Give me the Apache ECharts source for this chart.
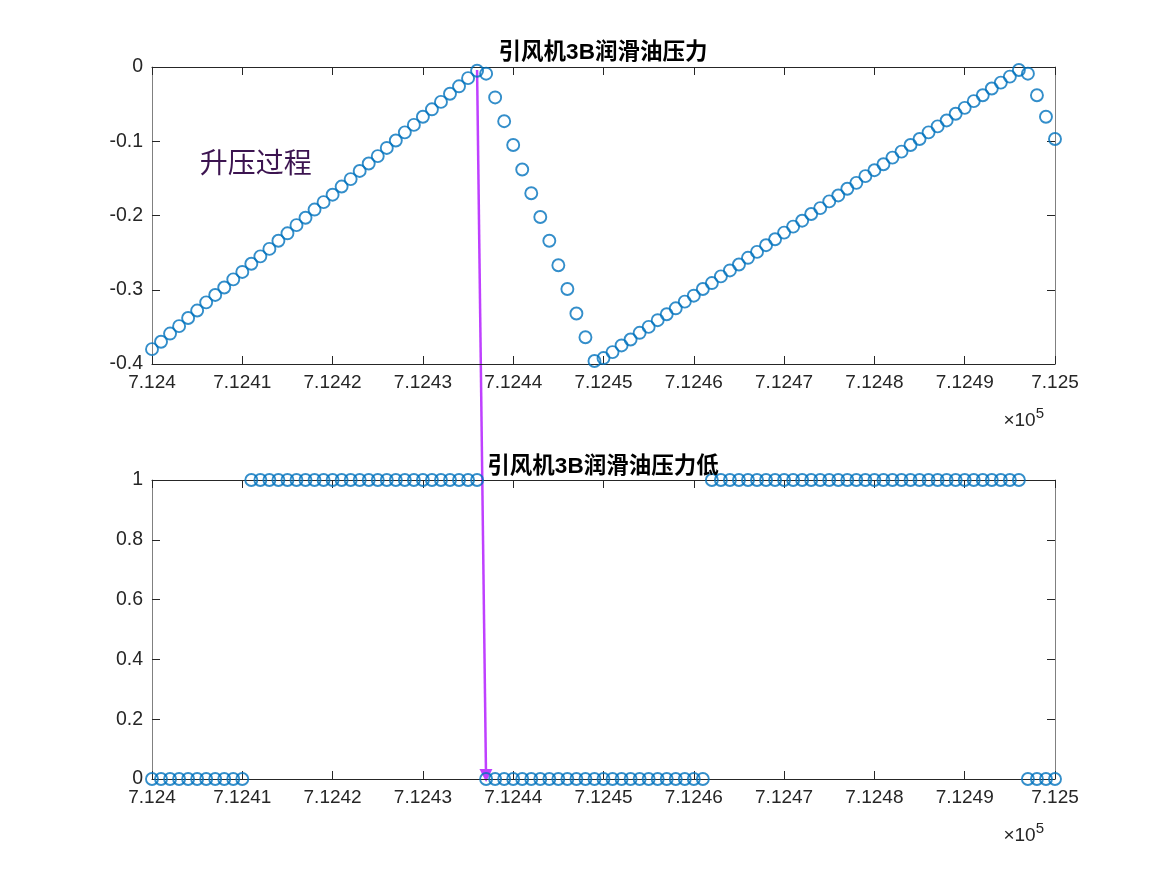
<!DOCTYPE html>
<html><head><meta charset="utf-8">
<script src="https://cdn.jsdelivr.net/npm/echarts@6/dist/echarts.min.js"></script>
<style>html,body{margin:0;padding:0;background:#fff}#c{width:1167px;height:875px}</style>
</head><body><div id="c"></div>
<script>
const xValues = [712400,712401,712402,712403,712404,712405,712406,712407,712408,712409,
712410,712411,712412,712413,712414,712415,712416,712417,712418,712419,
712420,712421,712422,712423,712424,712425,712426,712427,712428,712429,
712430,712431,712432,712433,712434,712435,712436,712437,712438,712439,
712440,712441,712442,712443,712444,712445,712446,712447,712448,712449,
712450,712451,712452,712453,712454,712455,712456,712457,712458,712459,
712460,712461,712462,712463,712464,712465,712466,712467,712468,712469,
712470,712471,712472,712473,712474,712475,712476,712477,712478,712479,
712480,712481,712482,712483,712484,712485,712486,712487,712488,712489,
712490,712491,712492,712493,712494,712495,712496,712497,712498,712499,712500];
const pressure = [-0.380,-0.370,-0.359,-0.349,-0.338,-0.328,-0.317,-0.307,-0.297,-0.286,
-0.276,-0.265,-0.255,-0.245,-0.234,-0.224,-0.213,-0.203,-0.192,-0.182,
-0.172,-0.161,-0.151,-0.140,-0.130,-0.120,-0.109,-0.099,-0.088,-0.078,
-0.067,-0.057,-0.047,-0.036,-0.026,-0.015,-0.005,-0.009,-0.041,-0.073,
-0.105,-0.138,-0.170,-0.202,-0.234,-0.267,-0.299,-0.332,-0.364,-0.396,
-0.392,-0.384,-0.375,-0.367,-0.358,-0.350,-0.341,-0.333,-0.325,-0.316,
-0.308,-0.299,-0.291,-0.282,-0.274,-0.266,-0.257,-0.249,-0.240,-0.232,
-0.223,-0.215,-0.207,-0.198,-0.190,-0.181,-0.173,-0.164,-0.156,-0.147,
-0.139,-0.131,-0.122,-0.114,-0.105,-0.097,-0.088,-0.080,-0.072,-0.063,
-0.055,-0.046,-0.038,-0.029,-0.021,-0.013,-0.004,-0.009,-0.038,-0.067,-0.097];
const lowFlag = [0,0,0,0,0,0,0,0,0,0,
0,1,1,1,1,1,1,1,1,1,
1,1,1,1,1,1,1,1,1,1,
1,1,1,1,1,1,1,0,0,0,
0,0,0,0,0,0,0,0,0,0,
0,0,0,0,0,0,0,0,0,0,
0,0,1,1,1,1,1,1,1,1,
1,1,1,1,1,1,1,1,1,1,
1,1,1,1,1,1,1,1,1,1,
1,1,1,1,1,1,1,0,0,0,0];
const titles = ['引风机3B润滑油压力', '引风机3B润滑油压力低'];
const annotationText = '升压过程';

const chart = echarts.init(document.getElementById('c'));
const fontLat = 'Liberation Sans, Helvetica, Arial, sans-serif';
const fontTitle = 'Liberation Sans, Noto Sans CJK SC, sans-serif';
const axisDark = '#262626';
const axisGray = '#808080';
const xFmt = v => String(parseFloat((v / 1e5).toFixed(5)));
const yFmt = v => String(parseFloat(v.toFixed(2)));

function xAx(gi, pos) {
  return {
    type: 'value', gridIndex: gi, position: pos, min: 712400, max: 712500, interval: 10,
    axisLine: {show: true, onZero: false, lineStyle: {color: axisDark, width: 1}},
    axisTick: {show: true, inside: true, length: 8, lineStyle: {color: axisDark}},
    axisLabel: {show: pos === 'bottom', formatter: xFmt, color: axisDark, fontSize: 19, fontFamily: fontLat, margin: 9},
    splitLine: {show: false}
  };
}
function yAx(gi, pos, min, max, interval) {
  return {
    type: 'value', gridIndex: gi, position: pos, min: min, max: max, interval: interval,
    axisLine: {show: true, onZero: false, lineStyle: {color: axisGray, width: 1}},
    axisTick: {show: true, inside: true, length: 8, lineStyle: {color: axisDark}},
    axisLabel: {show: pos === 'left', formatter: yFmt, color: axisDark, fontSize: 19.5, fontFamily: fontLat, margin: 9},
    splitLine: {show: false}
  };
}
const marker = {
  symbol: 'circle', symbolSize: 12, clip: false,
  itemStyle: {color: 'rgba(0,0,0,0)', borderColor: '#0072BD', borderWidth: 1.9},
  emphasis: {disabled: true}, silent: true
};

chart.setOption({
  animation: false,
  backgroundColor: '#fff',
  title: [
    {text: titles[0], left: 598, top: 37, textAlign: 'center', textStyle: {fontSize: 22.5, fontWeight: 'bold', color: '#000', fontFamily: fontTitle}},
    {text: titles[1], left: 598, top: 451, textAlign: 'center', textStyle: {fontSize: 22.5, fontWeight: 'bold', color: '#000', fontFamily: fontTitle}}
  ],
  grid: [
    {left: 152, top: 67, width: 903, height: 297},
    {left: 152, top: 480, width: 903, height: 299}
  ],
  xAxis: [xAx(0, 'bottom'), xAx(0, 'top'), xAx(1, 'bottom'), xAx(1, 'top')],
  yAxis: [yAx(0, 'left', -0.4, 0, 0.1), yAx(0, 'right', -0.4, 0, 0.1), yAx(1, 'left', 0, 1, 0.2), yAx(1, 'right', 0, 1, 0.2)],
  series: [
    Object.assign({type: 'scatter', xAxisIndex: 0, yAxisIndex: 0, data: xValues.map((x, i) => [x, pressure[i]])}, marker),
    Object.assign({type: 'scatter', xAxisIndex: 2, yAxisIndex: 2, data: xValues.map((x, i) => [x, lowFlag[i]])}, marker)
  ]
});

// annotations positioned from data coordinates
const p0 = chart.convertToPixel({gridIndex: 0}, [712436, -0.004]);
const p1 = chart.convertToPixel({gridIndex: 1}, [712437, -0.01]);
const dx = p1[0] - p0[0], dy = p1[1] - p0[1];
const L = Math.sqrt(dx * dx + dy * dy);
const ux = dx / L, uy = dy / L;
const headLen = 13, headW = 6.5;
const bx = p1[0] - ux * headLen, by = p1[1] - uy * headLen;
const arrowColor = '#BF40FF';
const tPos = chart.convertToPixel({gridIndex: 0}, [712405.3, -0.129]);
const g0 = chart.convertToPixel({gridIndex: 0}, [712500, -0.4]);
const g1 = chart.convertToPixel({gridIndex: 1}, [712500, 0]);
function sciText(p) {
  return {
    type: 'text', x: p[0] - 11, y: p[1] + 57, silent: true,
    style: {
      text: '×10{s|5}', align: 'right', verticalAlign: 'middle', fill: axisDark,
      fontSize: 19, fontFamily: fontLat,
      rich: {s: {fontSize: 15, fontFamily: fontLat, fill: axisDark, verticalAlign: 'top', padding: [0, 0, 14, 0]}}
    }
  };
}
chart.setOption({
  graphic: [
    {type: 'line', silent: true, shape: {x1: p0[0], y1: p0[1], x2: bx, y2: by}, style: {stroke: arrowColor, lineWidth: 2.5}},
    {type: 'polygon', silent: true, shape: {points: [[p1[0], p1[1]], [bx - uy * headW, by + ux * headW], [bx + uy * headW, by - ux * headW]]}, style: {fill: arrowColor}},
    {type: 'text', silent: true, x: tPos[0], y: tPos[1], style: {text: annotationText, fill: '#3C1450', fontSize: 28, fontFamily: 'Noto Sans CJK SC, sans-serif', align: 'left', verticalAlign: 'middle'}},
    sciText(g0), sciText(g1)
  ]
});
</script>
</body></html>
